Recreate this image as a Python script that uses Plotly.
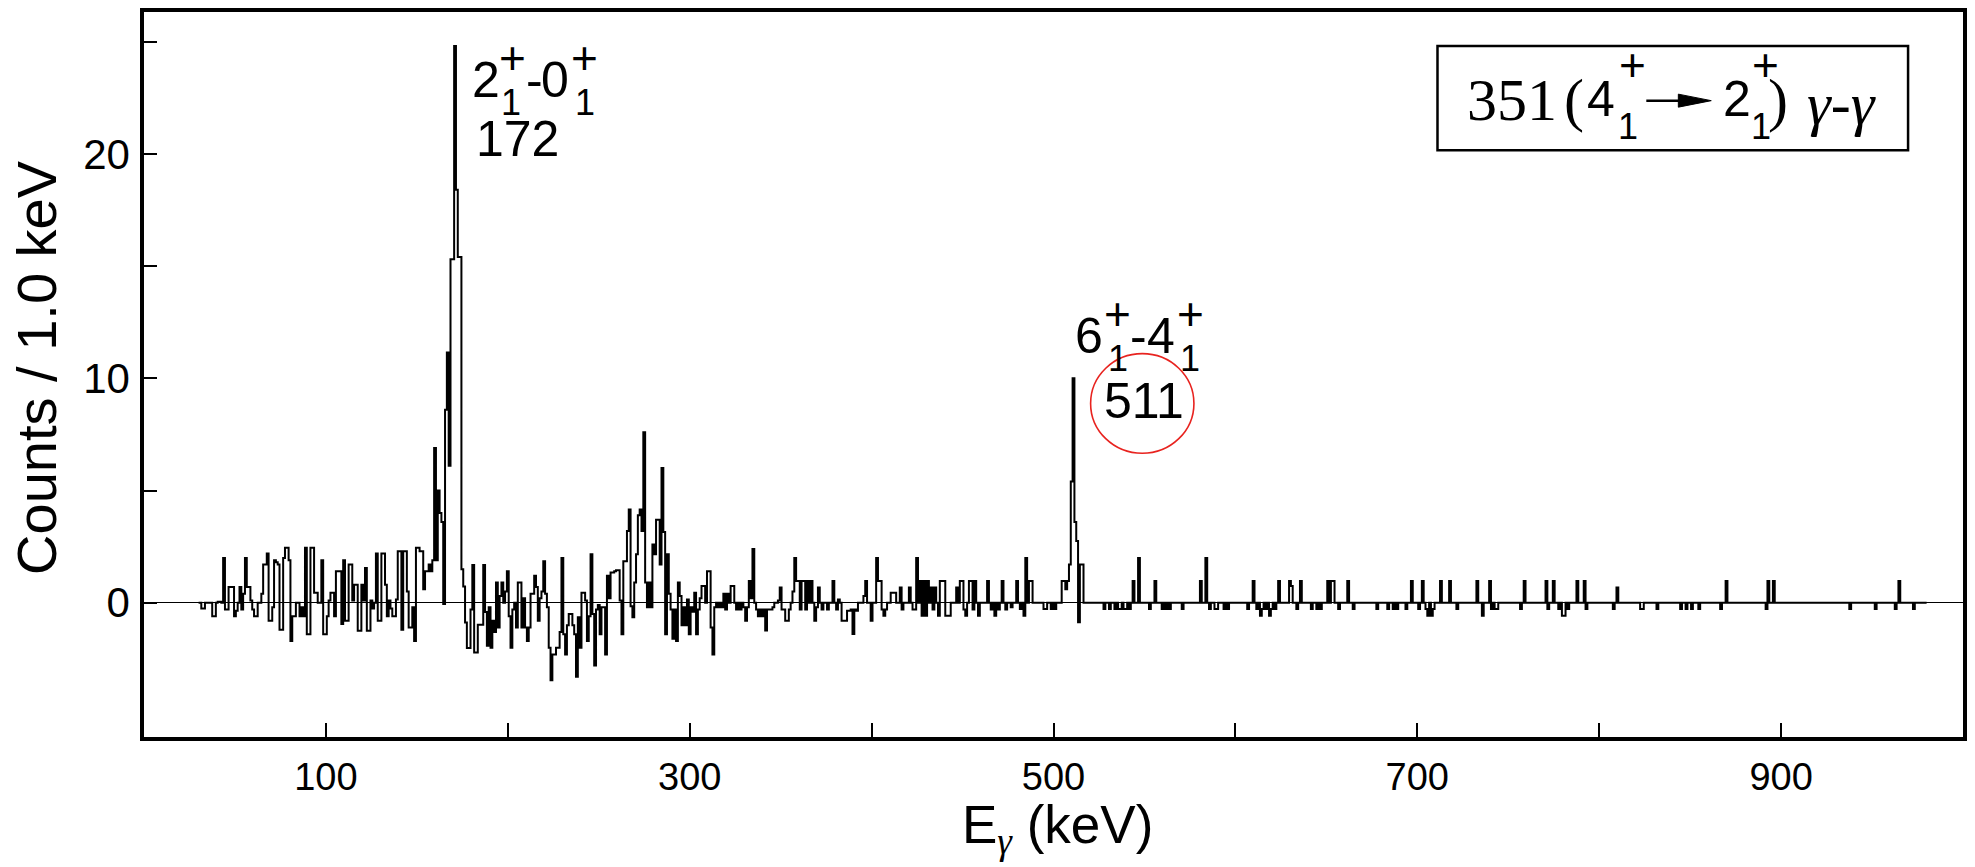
import numpy as np
import plotly.graph_objects as go

# ---------------- data ----------------
first_bin = 30      # keV, first 1-keV bin drawn
last_bin = 980      # keV, last bin drawn

# counts per 1 keV bin, 30 ... 517 keV
dense_counts = [
    0, 0, -0.25, -0.25, 0, 0, 0, 0, -0.6, -0.6,                  # 30
    0, 0.05, 0.05, 0, 2.0, -0.3, -0.3, 0.7, 0.7, 0.7,            # 40
    -0.6, -0.35, 0, 0.7, -0.3, 0.4, 2.0, 0.7, 0.7, 0.1,          # 50
    -0.3, -0.6, -0.6, 0, 0, 0.4, 1.7, 1.7, 2.2, -0.8,            # 60
    -0.8, -0.2, 1.9, 1.8, 1.7, -1.2, -1.2, 2.0, 2.45, 2.45,      # 70
    1.9, -1.7, -0.6, -0.6, 0, 0, -0.6, -0.2, -0.6, 2.45,         # 80
    -1.4, -1.4, 2.45, 2.45, 0.45, 0.45, 0, 0, 1.9, -1.4,         # 90
    -1.4, -0.6, 0.1, 0.45, 0.45, -0.6, 1.4, 1.4, 1.4, -0.95,     # 100
    1.9, -0.8, -0.8, 1.7, 1.7, 0.1, 0.8, 0.8, -1.25, -1.25,      # 110
    0.8, 0.1, 1.55, -1.25, -1.25, 0.1, -0.25, 0, 2.2, -0.8,      # 120
    -0.8, 2.2, 2.2, 0.8, -0.6, 0.1, -0.25, -0.6, -0.6, 0.15,     # 130
    2.3, 2.3, -1.2, 2.3, 2.3, 0.5, -1.1, -1.1, -0.2, -1.7,       # 140
    2.45, 2.45, 2.3, 2.3, 0.6, 1.4, 1.4, 1.7, 1.4, 1.9,          # 150
    6.9, 1.9, 5.0, 4.0, 3.6, -0.05, 8.6, 11.15, 6.1, 15.3,       # 160
    15.3, 24.8, 18.4, 15.4, 15.4, 1.49, 0.73, -0.88, -2.02, -2.02,   # 170
    -0.3, 1.68, -2.21, -2.21, -0.98, -0.98, -0.98, 1.68, -0.41, -1.92,  # 180
    -0.2, -2.0, -0.8, -1.3, 0.9, -1.1, 0.3, 0.9, 0.0, 0.5,       # 190
    1.4, -0.6, -2.0, -0.3, 0.0, -1.1, 0.9, 0.9, -1.1, 0.2,       # 200
    -1.1, -1.7, -1.1, 0.4, 0.4, 1.2, 0.7, -0.8, 0.2, 0.5,        # 210
    1.85, 0.4, -0.2, -2.0, -3.45, -2.3, -2.3, -2.0, -2.0, -1.3,  # 220
    2.0, -1.4, -2.3, -1.0, -0.5, -0.5, -1.0, -1.4, -3.3, -0.65,  # 230
    -2.0, 0.45, 0.45, 0.1, -1.7, -0.6, 2.16, -0.5, -2.8, -0.3,   # 240
    -0.1, -1.4, -0.2, -0.2, -2.3, 1.2, 0.2, 1.35, 1.35, 1.4,     # 250
    1.45, 1.45, 0.1, -1.4, 1.85, 1.85, 3.2, 4.15, -0.15, -0.65,  # 260
    0.9, 2.16, 3.9, 4.15, 3.2, 7.6, 0.9, -0.2, 0.9, -0.2,        # 270
    2.6, 2.16, 3.7, 3.7, 1.7, 6.0, 3.15, -1.4, 2.16, 0.4,        # 280
    -0.3, -1.6, -0.3, -1.7, 0.9, 0.3, -1.0, -0.2, -1.0, 0.15,    # 290
    -1.4, -0.2, -0.4, 0.45, -1.4, -0.3, 0.2, 0.75, 0.75, 0.0,    # 300
    1.4, 1.4, -1.1, -2.3, -0.2, 0.0, -0.2, 0.0, -0.2, 0.4,       # 310
    -0.3, 0.4, 0.0, 0.75, 0.75, 0.0, -0.3, 0.0, -0.3, 0.0,       # 320
    -0.2, -0.8, -0.2, 0.97, 0.2, 2.4, 0.0, -0.3, -0.6, -0.3,     # 330
    -0.6, -0.3, -1.24, -0.3, -0.3, -0.3, -0.2, 0.0, 0.0, 0.1,    # 340
    0.68, -0.3, -0.3, -0.8, -0.8, -0.3, 0.0, 0.5, 2.0, 0.97,     # 350
    0.97, -0.3, 0.97, 0.97, -0.3, 0.97, 0.0, 0.97, 0.0, -0.8,    # 360
    -0.2, 0.68, 0.0, -0.3, 0.0, 0.0, -0.3, 0.0, 0.0, 0.97,       # 370
    0.0, -0.3, 0.15, 0.0, -0.8, -0.8, -0.8, -0.35, -0.35, -0.3,  # 380
    -1.39, -0.3, -0.35, 0.0, 0.0, 0.0, 0.3, 0.97, 0.0, 0.0,      # 390
    -0.8, 0.0, 0.0, 2.0, 0.97, 0.97, -0.3, -0.58, -0.3, 0.0,     # 400
    0.0, 0.45, 0.45, 0.45, 0.0, 0.0, 0.68, -0.3, 0.0, 0.0,       # 410
    0.0, 0.68, 0.0, -0.3, -0.3, 2.0, 0.0, 0.97, -0.58, 0.97,     # 420
    -0.58, 0.97, 0.0, 0.68, -0.3, 0.68, 0.0, -0.58, 0.97, 0.97,  # 430
    0.97, -0.58, -0.58, -0.58, 0.0, 0.0, 0.0, 0.68, 0.0, 0.97,   # 440
    0.97, -0.3, -0.58, 0.0, 0.97, 0.97, -0.3, 0.97, 0.0, -0.58,  # 450
    0.0, 0.0, 0.0, 0.0, 0.97, 0.0, -0.3, 0.0, -0.58, 0.0,        # 460
    -0.3, 0.0, 0.97, 0.0, -0.3, 0.0, 0.0, -0.2, 0.0, 0.0,        # 470
    0.97, 0.0, -0.28, 0.0, -0.58, 2.0, 0.0, 0.97, 0.97, 0.0,     # 480
    0, 0, 0, 0, 0, -0.28, -0.28, 0, 0, -0.28,                    # 490
    0, -0.28, 0, 0, 0, 0.97, 0.97, 0.6, 0.97, 1.7,               # 500
    5.4, 10.0, 3.6, 2.75, -0.87, 1.7, 1.7, 0,                    # 510
]

# above 517 keV only the non-empty bins are listed; all others are 0
sparse_energy = [
    528, 531, 534, 536, 537, 539, 540, 542, 544, 547, 553, 556, 560, 562, 564,
    571, 581, 584, 586, 589, 590, 594, 596, 607, 610, 612, 614, 615, 617, 619,
    620, 622, 624, 630, 631, 634, 636, 642, 645, 647, 651, 653, 654, 657, 662,
    665, 678, 684, 687, 689, 694, 697, 701, 703, 705, 706, 708, 709, 713, 718,
    722, 733, 736, 740, 741, 743, 744, 757, 759, 771, 772, 775, 778, 780, 781,
    783, 788, 792, 793, 808, 810, 823, 824, 832, 845, 848, 851, 855, 867, 870,
    892, 893, 896, 938, 952, 963, 965, 973,
]
sparse_counts = [
    -0.28, -0.28, -0.28, -0.28, -0.28, -0.28, -0.28, -0.28, 0.97, 2.0, -0.28, 0.97, -0.28, -0.28, -0.28,
    -0.28, 0.97, 2.0, -0.28, -0.28, -0.28, -0.28, -0.28, -0.28, 0.97, -0.28, -0.58, -0.28, -0.28, -0.58,
    -0.28, -0.28, 0.97, 0.97, 0.75, -0.28, 0.97, -0.28, -0.28, -0.28, 0.97, 0.97, 0.97, -0.28, 0.97,
    -0.28, -0.28, -0.28, -0.28, -0.28, -0.28, 0.97, -0.28, 0.97, -0.28, -0.58, -0.58, -0.28, 0.97, 0.97,
    -0.28, 0.97, -0.58, 0.97, -0.28, -0.28, -0.28, -0.28, 0.97, 0.97, -0.28, 0.97, -0.28, -0.58, -0.58,
    -0.28, 0.97, 0.97, -0.28, -0.28, 0.68, -0.28, -0.28, -0.28, -0.28, -0.28, -0.28, -0.28, -0.28, 0.97,
    -0.28, 0.97, 0.97, -0.28, -0.28, -0.28, 0.97, -0.28,
]

x_tick_values = [100, 200, 300, 400, 500, 600, 700, 800, 900]
x_tick_labels = ["100", " ", "300", " ", "500", " ", "700", " ", "900"]
y_tick_values = [0, 5, 10, 15, 20, 25]
y_tick_labels = ["0", " ", "10", " ", "20", " "]

# ---------------- build the histogram ----------------
energy = np.arange(first_bin, last_bin + 1)
counts = np.zeros(len(energy))
counts[:len(dense_counts)] = dense_counts
for e, c in zip(sparse_energy, sparse_counts):
    counts[e - first_bin] = c

SANS = "Liberation Sans, Arial, Helvetica, sans-serif"
SERIF = "Liberation Serif, Times New Roman, serif"

fig = go.Figure()
fig.add_trace(go.Scatter(
    x=energy, y=counts, mode="lines",
    line=dict(color="black", width=2.0, shape="hvh"),
    showlegend=False, hoverinfo="skip",
))

annotations = []


def txt(s, x, y, size, family=SANS, xref="x", yref="y", xanchor="center", yanchor="middle", angle=0):
    annotations.append(dict(
        text=s, x=x, y=y, xref=xref, yref=yref, showarrow=False,
        xanchor=xanchor, yanchor=yanchor, textangle=angle,
        font=dict(family=family, size=size, color="black"),
    ))


MAIN, SUP, SUB = 50, 46, 36

# 2+1 - 0+1  172
for s, x, y, size in [("2", 187.8, 23.3, MAIN), ("+", 202.5, 24.25, SUP), ("1", 202.0, 22.3, SUB),
                      ("-", 214.5, 23.3, MAIN), ("0", 226.2, 23.3, MAIN), ("+", 242.0, 24.25, SUP),
                      ("1", 242.6, 22.3, SUB), ("172", 205.1, 20.65, MAIN)]:
    txt(s, x, y, size)

# 6+1 - 4+1  511
for s, x, y, size in [("6", 519.5, 11.9, MAIN), ("+", 535.0, 12.85, SUP), ("1", 535.5, 10.9, SUB),
                      ("-", 546.6, 11.9, MAIN), ("4", 559.0, 11.9, MAIN), ("+", 575.4, 12.85, SUP),
                      ("1", 574.8, 10.9, SUB), ("511", 550.0, 9.0, MAIN)]:
    txt(s, x, y, size)

# boxed gate label: 351 (4+1 -> 2+1) gamma-gamma
txt("351", 752.0, 22.4, 60, SERIF)
txt("(", 786.2, 22.4, 60, SERIF)
txt("4", 800.9, 22.43, MAIN)
txt("+", 818.2, 23.95, SUP)
txt("1", 815.6, 21.2, SUB)
txt("2", 875.5, 22.43, MAIN)
txt("+", 891.5, 23.95, SUP)
txt("1", 889.2, 21.2, SUB)
txt(")", 898.5, 22.4, 60, SERIF)
txt("<i>γ</i>-<i>γ</i>", 933.0, 22.2, 60, SERIF)

# axis titles
txt("E<sub><span style='font-family:Liberation Serif'><i>γ</i></span></sub> (keV)",
    0.502, -0.126, 53, xref="paper", yref="paper")
txt("Counts / 1.0 keV", -0.059, 0.51, 56, xref="paper", yref="paper", angle=-90)

shapes = [
    # gate label frame
    dict(type="rect", xref="x", yref="y", x0=711.1, x1=969.8, y0=20.16, y1=24.8,
         line=dict(color="black", width=2.5), fillcolor="rgba(0,0,0,0)"),
    # arrow shaft
    dict(type="line", xref="x", yref="y", x0=825.9, x1=846.0, y0=22.37, y1=22.37,
         line=dict(color="black", width=2.5)),
    # arrow head
    dict(type="path", xref="x", yref="y", path="M 843.5,22.66 L 861.6,22.37 L 843.5,22.08 Z",
         fillcolor="black", line=dict(color="black", width=1)),
    # red circle around 511
    dict(type="circle", xref="x", yref="y", x0=520.4, x1=577.2, y0=6.66, y1=11.1,
         line=dict(color="#e8231f", width=1.6)),
]

fig.update_layout(
    width=1975, height=867,
    margin=dict(l=144, r=10, t=8, b=130),
    paper_bgcolor="white", plot_bgcolor="white",
    annotations=annotations, shapes=shapes,
    font=dict(family=SANS, color="black"),
)
fig.update_xaxes(
    range=[0, 1000], showgrid=False, zeroline=False,
    showline=True, linecolor="black", linewidth=3.5, mirror=True,
    ticks="inside", ticklen=14, tickwidth=2, tickcolor="black",
    tickvals=x_tick_values, ticktext=x_tick_labels,
    tickfont=dict(family=SANS, size=38, color="black"),
    ticklabelstandoff=4,
)
fig.update_yaxes(
    range=[-5.98, 26.32], showgrid=False,
    zeroline=True, zerolinecolor="black", zerolinewidth=1.3,
    showline=True, linecolor="black", linewidth=3.5, mirror=True,
    ticks="inside", ticklen=13, tickwidth=2, tickcolor="black",
    tickvals=y_tick_values, ticktext=y_tick_labels,
    tickfont=dict(family=SANS, size=42, color="black"),
    ticklabelstandoff=2,
)

fig.write_html("out.html")
